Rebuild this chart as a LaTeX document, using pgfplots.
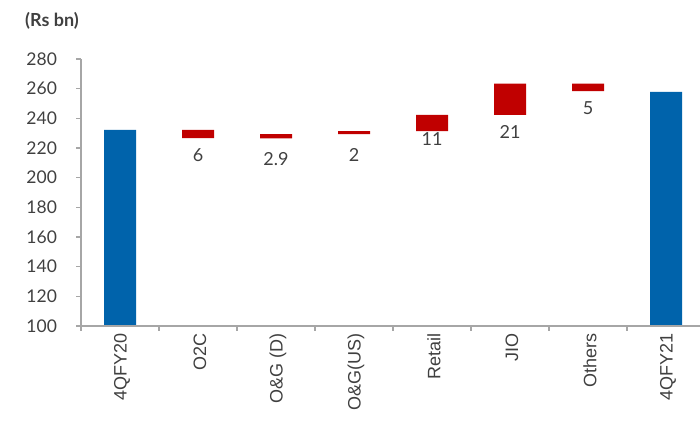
\documentclass[border=0pt]{standalone}
\usepackage{pgfplots}
\pgfplotsset{compat=1.18}
\usepackage{fontspec}
\setmainfont{Lato}
\newfontfamily\xfont{Liberation Sans}
\newcommand\xl[1]{{\xfont\fontsize{9}{10}\selectfont #1}}
\definecolor{barblue}{HTML}{0063AB}
\definecolor{barred}{HTML}{C00000}
\definecolor{txt}{HTML}{404040}
\definecolor{axgrey}{HTML}{A6A6A6}
\begin{document}
\begin{tikzpicture}[x=1pt,y=1pt]
\useasboundingbox (0,0) rectangle (350,216);
\clip (0,0) rectangle (350,216);
\begin{axis}[
  at={(40.5pt,53pt)}, anchor=south west,
  scale only axis, width=312pt, height=133.5pt,
  ybar stacked, bar width=16pt,
  xmin=-0.5, xmax=7.5, ymin=100, ymax=280,
  ytick={100,120,...,280},
  xtick={-0.5,0.5,...,6.5},
  xticklabels={},
  extra x ticks={0,...,7},
  extra x tick labels={\xl{4QFY20},\xl{O2C},\xl{O\&G (D)},\xl{O\&G(US)},\xl{Retail},\xl{JIO},\xl{Others},\xl{4QFY21}},
  extra x tick style={major tick length=0pt,
    xticklabel style={text=txt, rotate=90, anchor=east, yshift=-1pt}},
  axis x line*=bottom, axis y line*=left,
  separate axis lines,
  x axis line style={draw=axgrey, line width=0.6pt},
  y axis line style={draw=axgrey, line width=0.6pt},
  tick style={draw=axgrey, line width=0.6pt},
  tick align=outside,
  major tick length=2.5pt,
  /pgf/number format/assume math mode=true,
  yticklabel style={font=\fontsize{8.75}{10}\selectfont, text=txt, xshift=-6pt},
  axis on top,
]
\addplot[draw=none, fill=none] coordinates {(0,0) (1,226.6) (2,226.5) (3,229.4) (4,231.4) (5,242.4) (6,258.4) (7,0)};
\addplot[fill=barblue, draw=none] coordinates {(0,232.2) (1,0) (2,0) (3,0) (4,0) (5,0) (6,0) (7,257.8)};
\addplot[fill=barred, draw=none] coordinates {(0,0) (1,5.6) (2,2.9) (3,2.0) (4,11.0) (5,21.0) (6,5.0) (7,0)};
\node[font=\fontsize{9}{10}\selectfont, text=txt] at (axis cs:1,215.3) {6};
\node[font=\fontsize{9}{10}\selectfont, text=txt] at (axis cs:2,212.8) {2.9};
\node[font=\fontsize{9}{10}\selectfont, text=txt] at (axis cs:3,215.3) {2};
\node[font=\fontsize{9}{10}\selectfont, text=txt] at (axis cs:4,226.1) {11};
\node[font=\fontsize{9}{10}\selectfont, text=txt] at (axis cs:5,230.8) {21};
\node[font=\fontsize{9}{10}\selectfont, text=txt] at (axis cs:6,247.0) {5};
\end{axis}
\node[font=\bfseries\fontsize{9}{10}\selectfont, text=txt] at (26,205.5) {(Rs bn)};
\end{tikzpicture}
\end{document}
